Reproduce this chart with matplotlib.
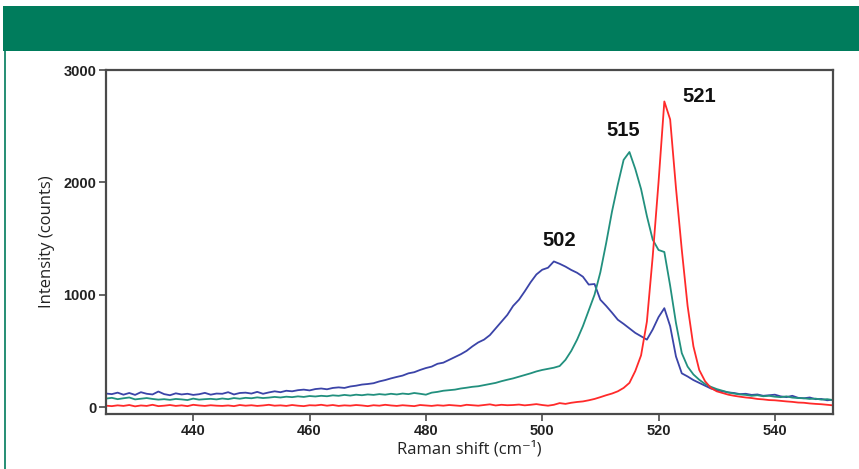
import numpy as np
import matplotlib.pyplot as plt
from matplotlib.patches import Rectangle
from matplotlib.lines import Line2D

# Raman shift axis (cm^-1), 1 cm^-1 steps
shift = np.arange(425, 551)

blue = [120, 115, 128, 110, 125, 108, 132, 118, 112, 138,
        115, 105, 122, 112, 118, 108, 114, 126, 110, 120,
        118, 132, 112, 125, 128, 120, 135, 118, 130, 140,
        132, 145, 140, 150, 155, 148, 160, 165, 158, 170,
        175, 170, 183, 190, 200, 205, 212, 228, 240, 255,
        268, 280, 300, 310, 330, 347, 360, 385, 395, 420,
        445, 470, 500, 540, 575, 600, 640, 700, 760, 820,
        900, 955, 1030, 1110, 1180, 1222, 1240, 1296, 1275, 1250,
        1220, 1195, 1160, 1090, 1095, 955, 900, 840, 777, 740,
        700, 660, 630, 600, 690, 800, 880, 720, 450, 300,
        272, 240, 215, 190, 165, 150, 140, 130, 125, 115,
        118, 108, 112, 100, 105, 110, 95, 88, 100, 82,
        78, 85, 70, 72, 60, 65]

teal = [75, 82, 70, 78, 85, 68, 74, 80, 72, 66,
        70, 64, 72, 68, 62, 75, 66, 70, 73, 68,
        76, 70, 80, 74, 82, 78, 86, 80, 84, 90,
        85, 92, 88, 95, 90, 98, 94, 100, 96, 104,
        100, 108, 102, 110, 105, 112, 108, 115, 110, 118,
        112, 120, 115, 125, 118, 110, 128, 135, 145, 150,
        155, 165, 172, 180, 185, 195, 205, 215, 230, 243,
        255, 270, 285, 300, 317, 330, 340, 350, 365, 420,
        500, 600, 720, 860, 1000, 1200, 1460, 1740, 1980, 2200,
        2270, 2120, 1940, 1700, 1490, 1398, 1380, 1080, 748, 480,
        360, 290, 243, 205, 180, 160, 145, 130, 120, 112,
        108, 100, 105, 96, 100, 92, 88, 95, 84, 80,
        78, 72, 75, 66, 70, 62]

red = [12, 8, 15, 10, 18, 6, 14, 10, 20, 8,
       12, 18, 10, 15, 8, 20, 14, 10, 16, 12,
       10, 14, 8, 18, 12, 16, 10, 14, 20, 12,
       15, 10, 18, 12, 8, 16, 14, 20, 12, 18,
       10, 15, 12, 18, 14, 8, 16, 12, 20, 14,
       10, 16, 12, 8, 18, 14, 10, 16, 12, 18,
       14, 10, 20, 16, 12, 18, 24, 14, 20, 16,
       18, 22, 15, 20, 26, 18, 12, 20, 35, 28,
       38, 45, 50, 60, 72, 88, 105, 120, 140, 170,
       215, 320, 460, 760, 1340, 2000, 2720, 2560, 1950, 1400,
       900, 540, 330, 230, 170, 140, 125, 110, 100, 92,
       85, 80, 72, 68, 62, 60, 55, 50, 46, 40,
       38, 32, 28, 25, 20, 15]

peak_labels = ['502', '515', '521']
peak_x = [503, 514, 527]
peak_y = [1400, 2380, 2680]

fig = plt.figure(figsize=(8.59, 4.69), dpi=100)

# green header band and left border line
fig.patches.append(Rectangle((3/859, 1 - 51/469), 1, 45/469, transform=fig.transFigure,
                             facecolor='#007c5c', edgecolor='none', zorder=0))
fig.lines.append(Line2D([4.5/859, 4.5/859], [0, 1 - 51/469], transform=fig.transFigure,
                        color='#007c5c', lw=1.2))

ax = fig.add_axes([106/859, 1 - 414/469, 727/859, 344/469])

ax.plot(shift, blue, color='#3b44a8', lw=1.3)
ax.plot(shift, teal, color='#22907e', lw=1.3)
ax.plot(shift, red, color='#ff2a2a', lw=1.3)

for lab, px, py in zip(peak_labels, peak_x, peak_y):
    ax.text(px, py, lab, ha='center', va='bottom', fontsize=14.5,
            fontweight='bold', family='Liberation Sans', color='#111111')

ax.set_xlim(425, 550)
ax.set_ylim(-62, 3000)
ax.set_xticks([440, 460, 480, 500, 520, 540])
ax.set_yticks([0, 1000, 2000, 3000])

for sp in ax.spines.values():
    sp.set_color('#4a4a4a')
    sp.set_linewidth(1.6)

ax.tick_params(direction='out', length=5, width=1.2, color='#4a4a4a',
               labelsize=10.5, pad=2)
for t in ax.get_xticklabels() + ax.get_yticklabels():
    t.set_fontweight('bold')
    t.set_family('Liberation Sans')
    t.set_color('#222222')

ax.set_xlabel('Raman shift (cm\u207b\u00b9)', family=['Open Sans', 'DejaVu Sans'],
              fontsize=12, color='#222222', labelpad=2)
ax.set_ylabel('Intensity (counts)', family=['Open Sans', 'DejaVu Sans'],
              fontsize=12, color='#222222', labelpad=6)

plt.savefig('out.png', dpi=100)
